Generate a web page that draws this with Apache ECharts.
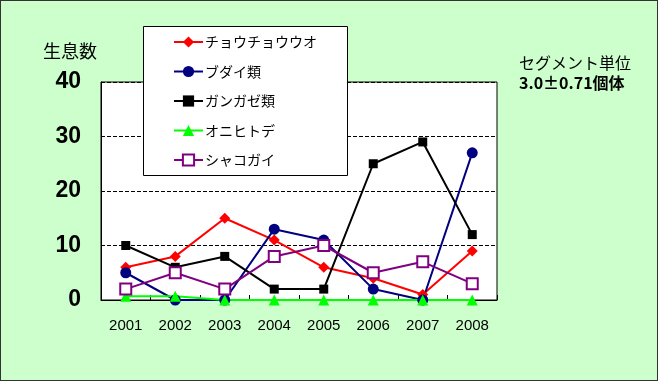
<!DOCTYPE html>
<html><head><meta charset="utf-8">
<script src="https://cdn.jsdelivr.net/npm/echarts@6/dist/echarts.min.js"></script>
<style>html,body{margin:0;padding:0;background:#ccffcc}#c{width:658px;height:381px;box-sizing:border-box;border:1px solid #333}</style>
</head><body><div id="c"></div>
<script>
const categories = ['2001','2002','2003','2004','2005','2006','2007','2008'];
const seriesNames = ['チョウチョウウオ','ブダイ類','ガンガゼ類','オニヒトデ','シャコガイ'];
const chouchouuo = [6, 8, 15, 11, 6, 4, 1, 9];
const budai = [5, 0, 0, 13, 11, 2, 0, 27];
const gangaze = [10, 6, 8, 2, 2, 25, 29, 12];
const onihitode = [0.7, 0.7, 0, 0, 0, 0, 0, 0];
const shakogai = [2, 5, 2, 8, 10, 5, 7, 3];
const yTicks = [0, 10, 20, 30, 40];

const chart = echarts.init(document.getElementById('c'), null, {renderer:'canvas'});
const jp = '"MS PGothic","Noto Sans CJK JP",sans-serif';
function s(name, data, color, symbol, size, extra) {
  return Object.assign({
    name, type:'line', data, symbol, symbolSize:size,
    lineStyle:{color, width:2}, itemStyle:{color},
    animation:false, z:3
  }, extra||{});
}
chart.setOption({
  backgroundColor:'#ccffcc',
  animation:false,
  grid:{left:100, right:160, top:81, bottom:80, show:true, backgroundColor:'#fff', borderColor:'#000', borderWidth:1},
  xAxis:{type:'category', data:categories, boundaryGap:true,
    axisLine:{lineStyle:{color:'#000', width:1}},
    axisTick:{show:true, inside:true, length:5, lineStyle:{color:'#000'}},
    axisLabel:{color:'#000', fontSize:15, fontFamily:'Liberation Sans, Arial', margin:18}},
  yAxis:{type:'value', min:0, max:40, interval:10,
    axisLine:{show:true, lineStyle:{color:'#000'}},
    axisTick:{show:false},
    splitLine:{show:true, lineStyle:{color:'#000', type:[4,2], width:1}},
    axisLabel:{color:'#000', fontSize:23, fontWeight:'bold', fontFamily:'Liberation Sans, Arial', margin:20,
      formatter:v => yTicks.includes(v) ? String(v) : ''}},
  legend:{orient:'vertical', left:172, top:34, padding:0, itemGap:15.5, itemWidth:29, itemHeight:14, z:20,
    data:seriesNames,
    textStyle:{fontSize:14, lineHeight:14, color:'#000', fontFamily:jp, padding:[0,0,0,-3]}},
  graphic:[
    {type:'rect', left:142, top:25, shape:{width:204, height:149}, style:{fill:'#fff', stroke:'#000', lineWidth:1}, z:10},
    {type:'text', left:42, top:41, style:{text:'生息数', fontSize:18, fill:'#000', fontFamily:jp, letterSpacing:2}, z:10},
    {type:'text', left:518, top:54, style:{text:'セグメント単位', fontSize:16, fill:'#000', fontFamily:jp}, z:10},
    {type:'text', left:518, top:74, style:{text:'3.0±0.71個体', fontSize:16, fontWeight:'bold', fill:'#000', fontFamily:jp}, z:10}
  ],
  series:[
    s(seriesNames[0], chouchouuo, '#ff0000', 'diamond', 11),
    s(seriesNames[1], budai, '#000080', 'circle', 11),
    s(seriesNames[2], gangaze, '#000000', 'rect', 9),
    s(seriesNames[3], onihitode, '#00ff00', 'triangle', 11),
    s(seriesNames[4], shakogai, '#800080', 'emptyRect', 11, {itemStyle:{color:'#800080', borderColor:'#800080', borderWidth:1.2}})
  ]
});
</script></body></html>
